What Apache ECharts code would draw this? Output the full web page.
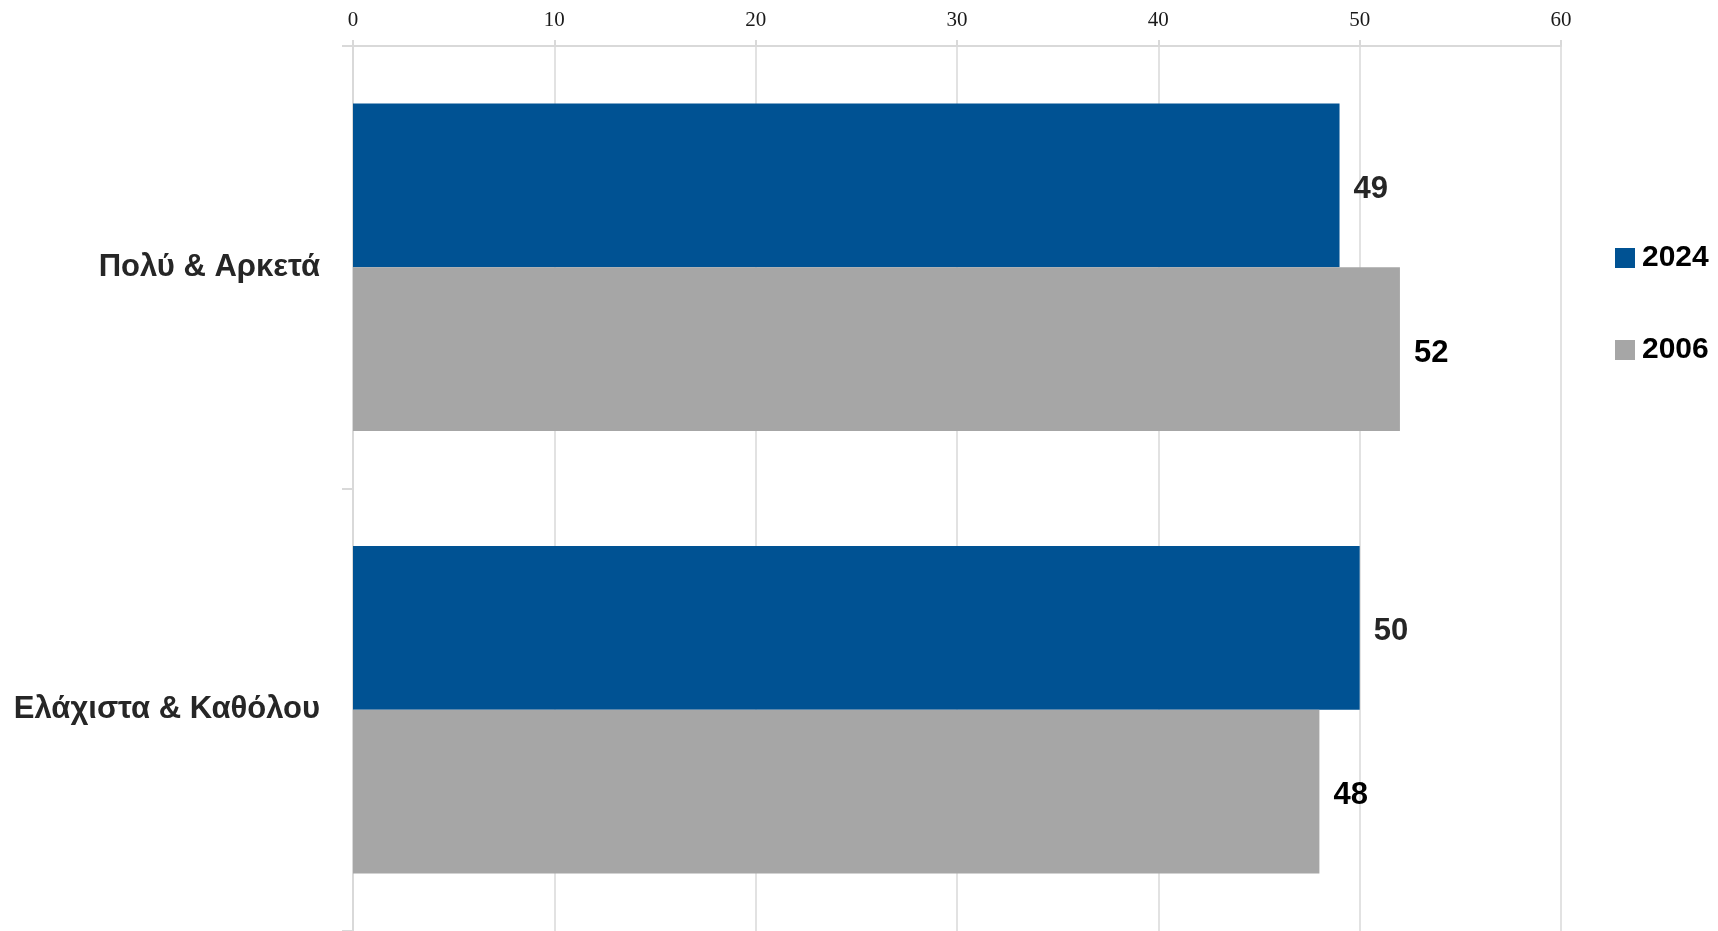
<!DOCTYPE html>
<html>
<head>
<meta charset="utf-8">
<script src="https://cdn.jsdelivr.net/npm/echarts@6/dist/echarts.min.js"></script>
<style>
  html, body { margin: 0; padding: 0; background: #fff; }
  #chart { width: 1718px; height: 931px; }
</style>
</head>
<body>
<div id="chart"></div>
<script>
'use strict';

// ── Data ──────────────────────────────────────────────────────────────────────
const categories = ['Πολύ & Αρκετά', 'Ελάχιστα & Καθόλου'];
const values2024 = [49, 50];
const values2006 = [52, 48];
const seriesNames = ['2024', '2006'];
const xTicks = [0, 60, 10];   // min, max, interval

const BLUE = '#005293';
const GRAY = '#A6A6A6';
const LINE = '#D9D9D9';
const NARROW = '"Liberation Sans Narrow", "Arial Narrow", "Liberation Sans", Arial, sans-serif';

// ── Chart ─────────────────────────────────────────────────────────────────────
const chart = echarts.init(document.getElementById('chart'), null, { renderer: 'canvas' });

const dataLabel = (color) => ({
  show:       true,
  position:   'right',
  distance:   14,
  offset:     [0, 4],
  fontFamily: NARROW,
  fontWeight: 'bold',
  fontSize:   31,
  color,
});

chart.setOption({
  backgroundColor: '#fff',
  animation: false,
  grid: { left: 353, right: 157, top: 46, bottom: -4, containLabel: false },
  legend: {
    orient:    'vertical',
    left:      1615,
    top:       243,
    padding:   0,
    itemWidth: 20,
    itemHeight: 20,
    itemGap:   62,
    icon:      'rect',
    data:      seriesNames,
    textStyle: {
      fontFamily: NARROW,
      fontWeight: 'bold',
      fontSize:   30,
      color:      '#000',
      padding:    [0, 0, 0, 2],
    },
  },
  xAxis: {
    type:     'value',
    position: 'top',
    min:      xTicks[0],
    max:      xTicks[1],
    interval: xTicks[2],
    axisLine:  { show: true, lineStyle: { color: LINE, width: 2 } },
    axisTick:  { show: true, length: 6, lineStyle: { color: LINE, width: 2 } },
    splitLine: { show: true, lineStyle: { color: LINE, width: 1.5 } },
    axisLabel: {
      margin:     15,
      fontFamily: '"Liberation Serif", "DejaVu Serif", serif',
      fontSize:   21,
      color:      '#1a1a1a',
    },
  },
  yAxis: {
    type:     'category',
    inverse:  true,
    data:     categories,
    axisLine: { show: true, lineStyle: { color: LINE, width: 2 } },
    axisTick: { show: true, length: 11, lineStyle: { color: LINE, width: 2 } },
    axisLabel: {
      margin:     33,
      fontFamily: '"Liberation Sans", Arial, sans-serif',
      fontWeight: 'bold',
      fontSize:   31,
      color:      '#262626',
      padding:    [8, 0, 0, 0],
    },
  },
  series: [
    {
      name:  seriesNames[0],
      type:  'bar',
      data:  values2024,
      barGap: '0%',
      barCategoryGap: '26%',
      itemStyle: { color: BLUE },
      label: dataLabel('#262626'),
    },
    {
      name:  seriesNames[1],
      type:  'bar',
      data:  values2006,
      barGap: '0%',
      barCategoryGap: '26%',
      itemStyle: { color: GRAY },
      label: dataLabel('#000'),
    },
  ],
});
</script>
</body>
</html>
